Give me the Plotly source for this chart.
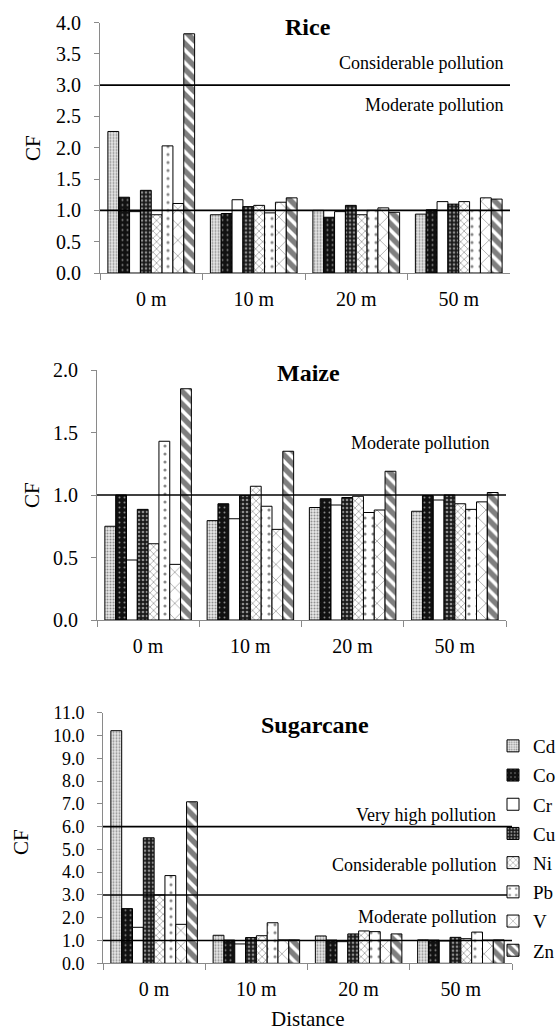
import plotly.graph_objects as go

W, H = 558, 1030
FONT = "Liberation Serif"

categories = ["0 m", "10 m", "20 m", "50 m"]
metals = ["Cd", "Co", "Cr", "Cu", "Ni", "Pb", "V", "Zn"]

# CF values, one list per metal, ordered by distance (0, 10, 20, 50 m)
rice_cf = {
    "Cd": [2.26, 0.93, 1.00, 0.94],
    "Co": [1.21, 0.95, 0.89, 1.01],
    "Cr": [0.98, 1.17, 0.98, 1.14],
    "Cu": [1.32, 1.06, 1.08, 1.10],
    "Ni": [0.93, 1.08, 0.93, 1.14],
    "Pb": [2.03, 0.96, 1.00, 1.00],
    "V":  [1.11, 1.13, 1.04, 1.20],
    "Zn": [3.82, 1.20, 0.97, 1.18],
}
maize_cf = {
    "Cd": [0.75, 0.795, 0.90, 0.87],
    "Co": [1.00, 0.93, 0.97, 0.995],
    "Cr": [0.48, 0.81, 0.92, 0.96],
    "Cu": [0.885, 0.995, 0.98, 1.00],
    "Ni": [0.61, 1.07, 0.99, 0.93],
    "Pb": [1.43, 0.91, 0.86, 0.885],
    "V":  [0.445, 0.725, 0.88, 0.945],
    "Zn": [1.85, 1.35, 1.19, 1.02],
}
sugarcane_cf = {
    "Cd": [10.21, 1.23, 1.20, 1.03],
    "Co": [2.40, 1.02, 1.02, 1.02],
    "Cr": [1.58, 0.85, 0.95, 0.98],
    "Cu": [5.51, 1.13, 1.29, 1.14],
    "Ni": [3.00, 1.21, 1.42, 1.08],
    "Pb": [3.85, 1.78, 1.39, 1.37],
    "V":  [1.71, 1.03, 1.02, 1.02],
    "Zn": [7.09, 1.03, 1.29, 1.03],
}

rice_thresholds = [1.0, 3.0]
maize_thresholds = [1.0]
sugarcane_thresholds = [1.0, 3.0, 6.0]

rice_yticks = [0, 0.5, 1.0, 1.5, 2.0, 2.5, 3.0, 3.5, 4.0]
maize_yticks = [0, 0.5, 1.0, 1.5, 2.0]
sugarcane_yticks = list(range(0, 12))

patterns = {
    "Cd": dict(marker_color="#e6e6e6", pattern=dict(shape=".", bgcolor="#e6e6e6", fgcolor="#3a3a3a", size=3, solidity=0.35)),
    "Co": dict(marker_color="#111111", pattern=dict(shape=".", bgcolor="#111111", fgcolor="#ffffff", size=5, solidity=0.12)),
    "Cr": dict(marker_color="#ffffff", pattern=dict(shape="")),
    "Cu": dict(marker_color="#1a1a1a", pattern=dict(shape=".", bgcolor="#1a1a1a", fgcolor="#ffffff", size=4, solidity=0.35)),
    "Ni": dict(marker_color="#ffffff", pattern=dict(shape="x", bgcolor="#ffffff", fgcolor="#222222", size=5, solidity=0.25)),
    "Pb": dict(marker_color="#ffffff", pattern=dict(shape=".", bgcolor="#ffffff", fgcolor="#111111", size=8, solidity=0.12)),
    "V":  dict(marker_color="#ffffff", pattern=dict(shape="x", bgcolor="#ffffff", fgcolor="#222222", size=11, solidity=0.12)),
    "Zn": dict(marker_color="#ffffff", pattern=dict(shape="\\", bgcolor="#ffffff", fgcolor="#000000", size=9, solidity=0.6)),
}

def px_x(x):
    return x / W

def px_y(y):
    return 1 - y / H

panels = [
    # data, thresholds, yticks, ymax, x-range px, y top px, y bottom px, suffix
    (rice_cf, rice_thresholds, rice_yticks, 4.0, (100, 510), 22.5, 273.0, ""),
    (maize_cf, maize_thresholds, maize_yticks, 2.0, (97, 506), 370.0, 620.0, "2"),
    (sugarcane_cf, sugarcane_thresholds, sugarcane_yticks, 11.0, (103, 512), 712.7, 963.3, "3"),
]

fig = go.Figure()
shapes = []
layout_axes = {}
for idx, (data, thr, yt, ymax, (x0, x1), ytop, ybot, sfx) in enumerate(panels):
    xa = "x" + sfx
    ya = "y" + sfx
    for m in metals:
        st = patterns[m]
        fig.add_trace(go.Bar(
            x=categories, y=data[m], name=m,
            xaxis=xa, yaxis=ya,
            legendgroup=m, showlegend=(idx == 2),
            marker=dict(color=st["marker_color"], line=dict(color="#000000", width=1),
                        pattern=st["pattern"]),
        ))
    for t in thr:
        shapes.append(dict(type="line", xref=xa + " domain", yref=ya, x0=0, x1=1, y0=t, y1=t,
                           line=dict(color="#000000", width=1.6), layer="above"))
    tsize = 18 if idx == 2 else 20
    layout_axes["xaxis" + sfx] = dict(
        domain=[px_x(x0), px_x(x1)], anchor=ya, type="category",
        showline=True, linecolor="#8a8a8a", linewidth=1,
        ticks="outside", tickson="boundaries", ticklen=6, tickcolor="#8a8a8a",
        tickfont=dict(family=FONT, size=20, color="#000"), ticklabelstandoff=8,
        showgrid=False, zeroline=False, fixedrange=True, automargin=False,
    )
    layout_axes["yaxis" + sfx] = dict(
        domain=[px_y(ybot), px_y(ytop)], anchor=xa, range=[0, ymax],
        tickvals=yt, tickformat=".1f",
        showline=True, linecolor="#8a8a8a", linewidth=1,
        ticks="outside", ticklen=5, tickcolor="#8a8a8a",
        tickfont=dict(family=FONT, size=tsize, color="#000"), ticklabelstandoff=9,
        showgrid=False, zeroline=False, fixedrange=True, automargin=False,
    )

ann = []
def text(x, y, s, size=18, bold=False, xanchor="center", angle=0):
    ann.append(dict(x=px_x(x), y=px_y(y), xref="paper", yref="paper", text=("<b>%s</b>" % s) if bold else s,
                    showarrow=False, xanchor=xanchor, yanchor="middle", textangle=angle,
                    font=dict(family=FONT, size=size, color="#000")))

# panel titles
text(308, 27, "Rice", size=24, bold=True)
text(308, 373, "Maize", size=24, bold=True)
text(315, 725, "Sugarcane", size=24, bold=True)
# CF axis titles
text(33, 148, "CF", size=21, angle=-90)
text(32, 495, "CF", size=21, angle=-90)
text(21, 842, "CF", size=21, angle=-90)
# pollution class labels
text(505, 63, "Considerable pollution", xanchor="right")
text(505, 105, "Moderate pollution", xanchor="right")
text(491, 443, "Moderate pollution", xanchor="right")
text(498, 815, "Very high pollution", xanchor="right")
text(498, 865, "Considerable pollution", xanchor="right")
text(498, 917, "Moderate pollution", xanchor="right")
# x title
text(307, 1019, "Distance", size=21)

fig.update_layout(
    width=W, height=H, autosize=False,
    margin=dict(l=0, r=0, t=0, b=0, autoexpand=False),
    paper_bgcolor="#ffffff", plot_bgcolor="#ffffff",
    barmode="group", bargap=0.154, bargroupgap=0,
    shapes=shapes, annotations=ann,
    legend=dict(x=px_x(493), y=px_y(727), xanchor="left", yanchor="top",
                font=dict(family=FONT, size=19, color="#000"),
                tracegroupgap=1.5, bgcolor="rgba(0,0,0,0)", itemclick=False),
    showlegend=True,
    **layout_axes,
)

fig.write_html("out.html")
